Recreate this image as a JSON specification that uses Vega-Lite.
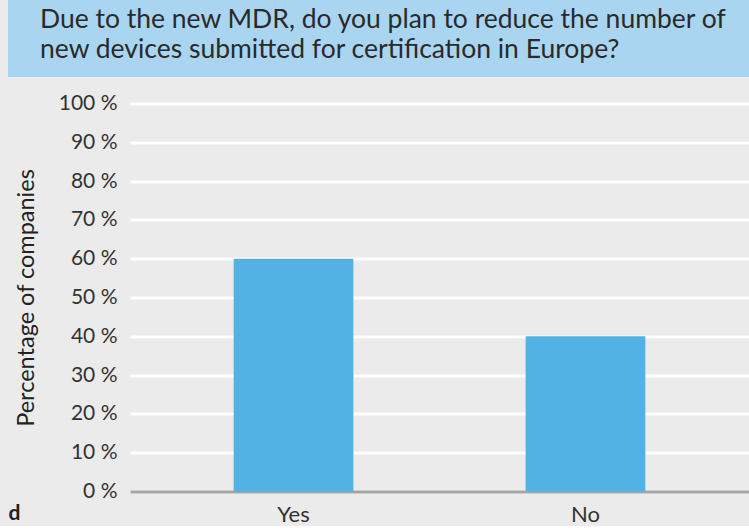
{
  "$schema": "https://vega.github.io/schema/vega-lite/v6.json",
  "padding": {"left": 8, "top": 0, "right": 0, "bottom": 0},
  "background": "#ebebeb",
  "spacing": 15.5,
  "config": {"font": "Lato", "view": {"stroke": null}},
  "vconcat": [
    {
      "width": 619,
      "height": 77,
      "data": {"values": [
        {"line": 1, "text": "Due to the new MDR, do you plan to reduce the number of"},
        {"line": 2, "text": "new devices submitted for certification in Europe?"}
      ]},
      "layer": [
        {
          "mark": {"type": "rect", "color": "#a9d5f1"},
          "encoding": {
            "x": {"datum": 0, "type": "quantitative", "scale": {"domain": [0.16464, 1], "zero": false, "nice": false}, "axis": null},
            "x2": {"datum": 1}
          }
        },
        {
          "mark": {"type": "text", "align": "left", "baseline": "middle", "dy": -3.5, "fontSize": 26.5, "color": "#2a2a2a", "font": "Lato"},
          "encoding": {
            "x": {"datum": 0.0432, "type": "quantitative", "axis": null},
            "y": {"field": "line", "type": "ordinal", "axis": null, "scale": {"padding": 0.75}},
            "text": {"field": "text"}
          }
        }
      ]
    },
    {
      "width": 619,
      "height": 388,
      "data": {"values": [
        {"answer": "Yes", "pct": 60},
        {"answer": "No", "pct": 40}
      ]},
      "mark": {"type": "bar", "color": "#52b2e4"},
      "encoding": {
        "x": {
          "field": "answer", "type": "nominal", "sort": ["Yes", "No"],
          "scale": {"paddingInner": 0.59, "paddingOuter": 0.355},
          "axis": {
            "title": "d", "titleAnchor": "start", "titleAlign": "left", "titleX": -122, "titleY": 11,
            "titleFontWeight": "bold", "titleFontSize": 21, "titleColor": "#222",
            "labelAngle": 0, "ticks": false, "domainColor": "#a5a5a5", "domainWidth": 3,
            "labelFontSize": 22, "labelColor": "#333", "labelPadding": 13
          }
        },
        "y": {
          "field": "pct", "type": "quantitative", "scale": {"domain": [0, 100]},
          "axis": {
            "title": "Percentage of companies", "values": [0, 10, 20, 30, 40, 50, 60, 70, 80, 90, 100],
            "labelExpr": "datum.value + ' %'", "ticks": false, "domain": false,
            "gridColor": "#ffffff", "gridWidth": 3, "gridOpacity": 1,
            "labelPadding": 13, "labelFontSize": 21, "labelColor": "#333",
            "titleFontSize": 23.5, "titleFontWeight": "normal", "titleColor": "#222", "titlePadding": 20
          }
        }
      }
    }
  ]
}
